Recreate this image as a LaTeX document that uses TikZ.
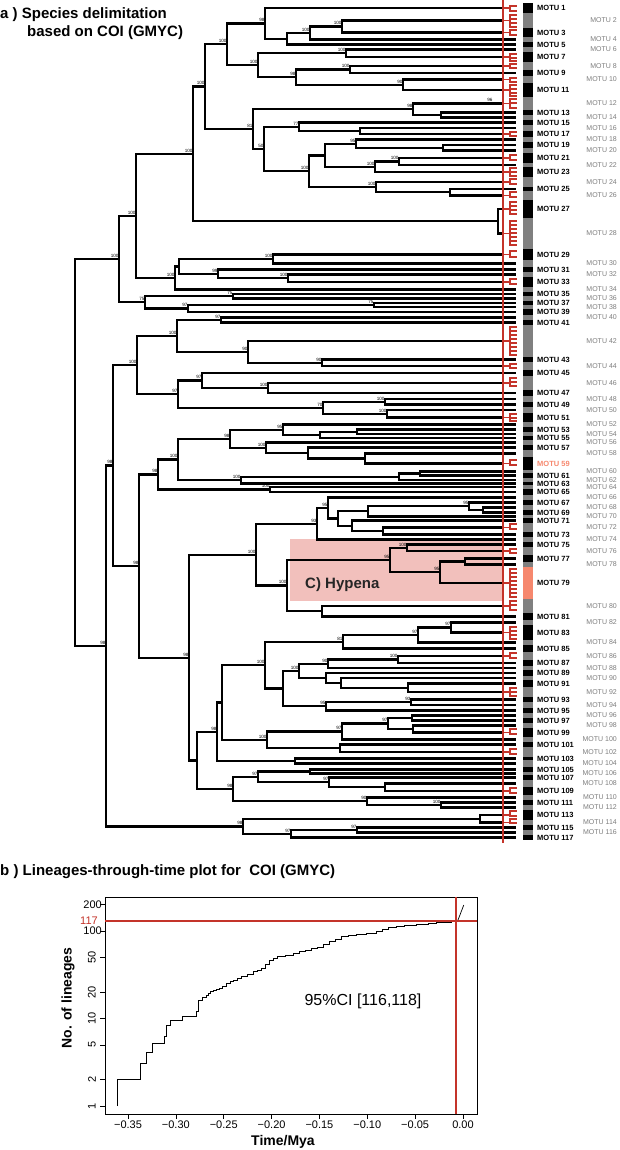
\documentclass[tikz,border=0pt]{standalone}
\usepackage{fontspec}
\setmainfont{Liberation Sans}
\usetikzlibrary{calc}

\definecolor{gmycred}{RGB}{196,52,42}
\definecolor{motugrey}{RGB}{128,128,128}
\definecolor{greytext}{RGB}{125,125,125}
\definecolor{hypsalmon}{RGB}{246,136,110}
\definecolor{hypshade}{RGB}{242,192,188}

\begin{document}
\begin{tikzpicture}[
    x=1pt, y=-1pt,
    branch/.style = {line width=2.3pt}, % tree branches
    comb/.style = {gmycred, line width=1.8pt}, % GMYC clusters
    boot/.style = {anchor=south east, inner sep=0.3pt, yshift=1pt,
                   font=\fontsize{4.6}{5}\selectfont},
    oddlab/.style = {anchor=west, inner sep=0pt,
                     font=\fontsize{7.5}{8}\selectfont\bfseries},
    evenlab/.style = {anchor=east, inner sep=0pt, text=greytext,
                      font=\fontsize{7}{8}\selectfont},
    panel/.style = {anchor=west, inner sep=0pt,
                    font=\fontsize{15}{17}\selectfont\bfseries},
    ticklab/.style = {inner sep=0pt, font=\fontsize{11}{12}\selectfont}
    ]
\useasboundingbox (0,0) rectangle (620,1150);

% panel titles
\node[panel] (titleA) at (0,15) {a ) Species delimitation};
\node[panel] (titleA2) at (27,33) {based on COI (GMYC)};
\node[panel] (titleB) at (0,872) {b ) Lineages-through-time plot for\ \ COI (GMYC)};

% Hypena shading
\fill[hypshade] (290,539) rectangle (503,601);
\node[anchor=west, inner sep=0pt, text=black!85,
      font=\fontsize{15}{17}\selectfont\bfseries] (hyplab) at (305,585) {C) Hypena};

% MOTU bars, labels and tips
\foreach \i/\a/\b in {1/3/13, 2/13/28, 3/28/37, 4/37/42, 5/42/47, 6/47/52, 7/52/62,
    8/62/70, 9/70/76, 10/76/83, 11/83/97, 12/97/110, 13/110/115, 14/115/120,
    15/120/125, 16/125/131, 17/131/137, 18/137/142, 19/142/148, 20/148/153,
    21/153/163, 22/163/167, 23/167/177, 24/177/187, 25/187/191, 26/191/200,
    27/200/218, 28/218/249, 29/249/260, 30/260/267, 31/267/272, 32/272/277,
    33/277/287, 34/287/292, 35/292/296, 36/296/301, 37/301/305, 38/305/309,
    39/309/315, 40/315/320, 41/320/325, 42/325/357, 43/357/362, 44/362/370,
    45/370/376, 46/376/390, 47/390/396, 48/396/402, 49/402/407, 50/407/413,
    51/413/422, 52/422/427, 53/427/432, 54/432/436, 55/436/440, 56/440/445,
    57/445/450, 58/450/457, 59/457/470, 60/470/473, 61/473/478, 62/478/482,
    63/482/485, 64/485/489, 65/489/495, 66/495/500, 67/500/505, 68/505/510,
    69/510/515, 70/515/518, 71/518/523, 72/523/532, 73/532/537, 74/537/542,
    75/542/547, 76/547/555, 77/555/562, 78/562/567, 79/567/599, 80/599/613,
    81/613/620, 82/620/625, 83/625/640, 84/640/645, 85/645/652, 86/652/660,
    87/660/666, 88/666/670, 89/670/676, 90/676/680, 91/680/687, 92/687/697,
    93/697/702, 94/702/708, 95/708/713, 96/713/718, 97/718/723, 98/723/728,
    99/728/737, 100/737/742, 101/742/747, 102/747/757, 103/757/760, 104/760/767,
    105/767/772, 106/772/775, 107/775/780, 108/780/787, 109/787/795, 110/795/800,
    111/800/805, 112/805/810, 113/810/820, 114/820/825, 115/825/830, 116/830/835,
    117/835/840}{
  \ifodd\i\relax \def\barcol{black}\else \def\barcol{motugrey}\fi
  \ifnum\i=79\relax \def\barcol{hypsalmon}\fi
  \fill[fill=\barcol] (523,\a) rectangle (533,\b);
  \coordinate (m\i) at (516,{(\a+\b)/2});
  \ifodd\i\relax
    \ifnum\i=59\relax \def\labcol{hypsalmon}\else \def\labcol{black}\fi
    \node[oddlab, text=\labcol] (lab\i) at (537,{(\a+\b)/2}) {MOTU \i};
  \else
    \node[evenlab] (lab\i) at (617,{(\a+\b)/2}) {MOTU \i};
  \fi
}

% GMYC clusters: tip stops at the threshold, red comb beyond
\foreach \i/\tips in {1/{6,11}, 2/{15,19,23,27}, 3/{30,35}, 7/{54,58,61},
    8/{64,68}, 10/{78,82}, 11/{85,89,93,96}, 12/{99,103,108}, 17/{132,136},
    21/{155,160}, 23/{168,172,176}, 24/{179,184}, 26/{192,197},
    27/{202,206,210,214}, 28/{221,225,229,233,237,241,245}, 29/{251,257},
    33/{279,284}, 42/{327,331,335,339,343,347,351,355}, 44/{364,368},
    46/{378,382,386}, 51/{414,418,421}, 59/{460,465}, 72/{524,529},
    76/{549,553}, 79/{569,573,577,581,585,589,593,597}, 80/{601,605,610},
    83/{627,631,635,639}, 86/{653,658}, 92/{688,692,696}, 99/{729,734},
    102/{749,754}, 109/{788,793}, 113/{811,816}, 114/{819,823}}{
  \path (m\i) ++(-12,0) coordinate (m\i);
  \foreach \t in \tips
    \draw[comb] (m\i) -- ++(6,0) |- (517,\t);
}

% internal nodes
\foreach \n/\x/\y in {root/75/453, A/119/259, B/106/646, A1/136/216, A2/145/302,
    A1a/193/154, A1b/175/278, A1a1/205/86.5, c2728/498/221, G/227/44, N81/253/129,
    G1/265/23.5, G1b/287/39, G1c/310/33, G1d/342/26.5, G2/258/65, G2a/346/53,
    G2b/296/77, G2c/350/69.5, G2d/403/85, N98b/413/109, n441/441/115, n493/493/103.5,
    N50/264/149, N77/299/127, n360/360/131, N100c/309/171, n325/325/155.5,
    N95/356/144, n443/443/148, N100d/375/167, N100e/399/161.5, N100f/376/187,
    nX/450/192, N179/179/266.5, N273/273/259, N218/218/274, N288/288/278,
    n233/233/296, N97/188/308.5, N75b/374/305, B1/113/465.5, C/137/365,
    C1/177/336, N97c/221/320, N90/248/352, N90b/322/363, C2/178/394,
    N97d/202/380.5, N100g/268/388, N70/323/408, N100h/385/402, N100i/387/414,
    D/139/566, E/158/474.5, E1/178/459.5, E1a/230/439, N95c/283/430,
    n320/320/435, n357a/357/432, N100j/266/448, n308/308/453, n365/365/458.5,
    E1b/241/480, n399/399/477, n420/420/473.5, N100k/270/489.5, P/189/658,
    F/256/555, F1/317/524, F1a/328/508, n338/338/518.5, n368/368/511,
    n469/469/506, n483/483/510, n352/352/526, n383/383/531, Hyp/287/585.5,
    H1/390/560, n407/407/548, H2/440/572, n465/465/561.5, n322/322/611,
    Q/197/760.5, R/217/732, Rp/222/702.5, R1/265/665, K/343/642, K1/418/635,
    n451/451/627.5, L/283/688.5, L1/299/671, n328/328/664, n398/398/659.5,
    n326/326/678, n341/341/683, n408/408/688, L2/326/706, n411/411/702,
    R2/267/740, R2a/342/731.5, n388/388/723.5, n412/412/718, n413/413/729,
    n340/340/748, n295/295/761, S/233/789, S1/258/777, n310/310/771.5,
    S1b/329/782, n385/385/787, S2/367/801, n441b/441/805, B2/243/826.5,
    n480/480/819, n291/291/834, n357b/357/830}
  \coordinate (\n) at (\x,\y);

% branches
\foreach \p/\c in {root/A, root/B, A/A1, A/A2, A1/A1a, A1/A1b, A1a/A1a1, A1a/c2728,
    c2728/m27, c2728/m28, A1a1/G, A1a1/N81, G/G1, G/G2, G1/m1, G1/G1b,
    G1b/G1c, G1b/m5, G1c/G1d, G1c/m4, G1d/m2, G1d/m3, G2/G2a, G2/G2b,
    G2a/m6, G2a/m7, G2b/G2c, G2b/G2d, G2c/m8, G2c/m9, G2d/m10, G2d/m11,
    N81/N98b, N81/N50, N98b/m12, N98b/n441, n441/m13, n441/m14,
    N50/N77, N50/N100c, N77/m15, N77/n360, n360/m16, n360/m17,
    N100c/n325, N100c/N100f, n325/N95, n325/N100d, N95/m18, N95/n443,
    n443/m19, n443/m20, N100d/N100e, N100d/m23, N100e/m21, N100e/m22,
    N100f/m24, N100f/nX, nX/m25, nX/m26, A1b/N179, A1b/m34, N179/N273,
    N179/N218, N273/m29, N273/m30, N218/m31, N218/N288, N288/m32, N288/m33,
    A2/n233, A2/N97, n233/m35, n233/m36, N97/N75b, N97/m39, N75b/m37, N75b/m38,
    B/B1, B/B2, B1/C, B1/D, C/C1, C/C2, C1/N97c, C1/N90, N97c/m40, N97c/m41,
    N90/m42, N90/N90b, N90b/m43, N90b/m44, C2/N97d, C2/N70, N97d/m45,
    N97d/N100g, N100g/m46, N100g/m47, N70/N100h, N70/N100i, N100h/m48,
    N100h/m49, N100i/m50, N100i/m51, D/E, D/P, E/E1, E/N100k, E1/E1a, E1/E1b,
    E1a/N95c, E1a/N100j, N95c/m52, N95c/n320, n320/n357a, n320/m55,
    n357a/m53, n357a/m54, N100j/m56, N100j/n308, n308/m57, n308/n365,
    n365/m58, n365/m59, E1b/n399, E1b/m63, n399/n420, n399/m62, n420/m60,
    n420/m61, N100k/m64, N100k/m65, P/F, P/Q, F/F1, F/Hyp, F1/F1a, F1/m74,
    F1a/m66, F1a/n338, n338/n368, n338/n352, n368/n469, n368/m70, n469/m67,
    n469/n483, n483/m68, n483/m69, n352/m71, n352/n383, n383/m72, n383/m73,
    Hyp/H1, Hyp/n322, H1/n407, H1/H2, n407/m75, n407/m76, H2/n465, H2/m79,
    n465/m77, n465/m78, n322/m80, n322/m81, Q/R, Q/S, R/Rp, R/n295,
    Rp/R1, Rp/R2, R1/K, R1/L, K/K1, K/m85, K1/n451, K1/m84, n451/m82,
    n451/m83, L/L1, L/L2, L1/n328, L1/n326, n328/n398, n328/m88, n398/m86,
    n398/m87, n326/m89, n326/n341, n341/m90, n341/n408, n408/m91, n408/m92,
    L2/n411, L2/m95, n411/m93, n411/m94, R2/R2a, R2/n340, R2a/n388, R2a/m100,
    n388/n412, n388/n413, n412/m96, n412/m97, n413/m98, n413/m99,
    n340/m101, n340/m102, n295/m103, n295/m104, S/S1, S/S2, S1/n310, S1/S1b,
    n310/m105, n310/m106, S1b/m107, S1b/n385, n385/m108, n385/m109,
    S2/m110, S2/n441b, n441b/m111, n441b/m112, B2/n480, B2/n291,
    n480/m113, n480/m114, n291/n357b, n291/m117, n357b/m115, n357b/m116}
  \draw[branch] (\p) |- (\c);

% bootstrap support
\foreach \n/\s in {A/100, A1/100, A1a/100, A1a1/100, G/100, G1/98, G1c/100,
    G1d/100, G2/100, G2a/100, G2b/98, G2c/100, G2d/90, N81/81, N98b/98, n493/96,
    N50/50, N77/77, N95/95, N100c/100, N100d/100, N100e/100, N100f/100,
    A1b/100, N273/100, N218/99, N288/100, A2/75, n233/75, N97/97, N75b/75,
    B/98, B1/98, C/100, C1/100, N97c/97, N90/90, N90b/90, C2/97, N97d/97,
    N100g/100, N70/70, N100h/100, N100i/100, D/98, E/98, E1/100, E1a/98,
    N95c/95, N100j/100, E1b/100, N100k/100, P/98, F/100, F1/93, F1a/95,
    n469/95, Hyp/100, H1/95, n407/100, H2/95, R/98, R1/100, K/81, K1/97,
    n451/97, L1/100, n398/100, n328/90, L2/95, n411/93, R2/100, R2a/97,
    n388/97, S/98, S1/97, S1b/97, S2/90, n441b/100, B2/98, n291/97, n357b/97}
  \node[boot] at (\n) {\s};

% GMYC threshold
\coordinate (gmyctop) at (503,0);
\coordinate (gmycbot) at (503,843);
\draw[gmycred, line width=2.3pt] (gmyctop) -- (gmycbot);

% lineages-through-time plot
\begin{scope}[shift={(463,1106)}, x=957.1pt, y=87.5pt]
  \draw[line width=0.7pt] (-0.3741,-0.0914) rectangle (0.0146,2.389);
  \foreach \t/\lab in {-0.35/−0.35, -0.30/−0.30, -0.25/−0.25, -0.20/−0.20,
      -0.15/−0.15, -0.10/−0.10, -0.05/−0.05, 0/0.00}{
    \draw[line width=0.6pt] (\t,-0.0914) -- ++(0,-5pt);
    \node[ticklab, anchor=north] at ([yshift=-7pt]\t,-0.0914) {\lab};
  }
  \foreach \n/\l in {1/0, 2/0.301, 5/0.699, 10/1, 20/1.301, 50/1.699}{
    \draw[line width=0.6pt] (-0.3741,\l) -- ++(-5pt,0);
    \node[ticklab, rotate=90] at ([xshift=-13pt]-0.3741,\l) {\n};
  }
  \foreach \n/\l in {100/2, 200/2.301}{
    \draw[line width=0.6pt] (-0.3741,\l) -- ++(-5pt,0);
    \node[ticklab, anchor=east] at ([xshift=-3pt]-0.3741,\l) {\n};
  }
  \node[ticklab, anchor=east, text=gmycred] at ([xshift=-7pt]-0.3741,2.12) {117};
  \draw[line width=0.7pt] plot[const plot] coordinates {
    (-0.3616,0) (-0.3616,0.309) (-0.3367,0.488) (-0.3306,0.613)
    (-0.3243,0.716) (-0.3119,0.792) (-0.3098,0.926) (-0.3057,0.983)
    (-0.2933,1.021) (-0.2788,1.078) (-0.2767,1.211) (-0.2725,1.24)
    (-0.2684,1.269) (-0.2663,1.288) (-0.2642,1.307) (-0.2611,1.32)
    (-0.2581,1.333) (-0.2549,1.349) (-0.2518,1.364) (-0.2476,1.40)
    (-0.2435,1.42) (-0.2395,1.44) (-0.2353,1.46) (-0.2311,1.478)
    (-0.2249,1.505) (-0.2187,1.535) (-0.2146,1.555) (-0.2104,1.573)
    (-0.2062,1.62) (-0.2021,1.669) (-0.198,1.69) (-0.1939,1.707)
    (-0.1856,1.725) (-0.1773,1.745) (-0.1711,1.765) (-0.1649,1.783)
    (-0.1587,1.80) (-0.1524,1.813) (-0.1462,1.845) (-0.1400,1.878)
    (-0.1338,1.905) (-0.1276,1.935) (-0.1193,1.948) (-0.1110,1.962)
    (-0.1007,1.977) (-0.0904,1.992) (-0.0842,2.017) (-0.0779,2.042)
    (-0.0696,2.055) (-0.0613,2.069) (-0.0489,2.078) (-0.0364,2.088)
    (-0.0282,2.094) (-0.0200,2.099) (-0.0117,2.107) (-0.0055,2.118)};
  \draw[line width=0.7pt] (-0.0055,2.118) -- (0.0008,2.297);
  \draw[gmycred, line width=2pt] (-0.3741,2.12) -- (0.0146,2.12);
  \draw[gmycred, line width=2pt] (-0.0073,-0.0914) -- (-0.0073,2.389);
\end{scope}
\node[font=\fontsize{14}{16}\selectfont\bfseries, rotate=90] (ylab) at (68,998) {No. of lineages};
\node[font=\fontsize{14}{16}\selectfont\bfseries] (xlab) at (283,1142) {Time/Mya};
\node[font=\fontsize{16}{18}\selectfont] (ci) at (363,1001) {95\%CI [116,118]};
\end{tikzpicture}
\end{document}
